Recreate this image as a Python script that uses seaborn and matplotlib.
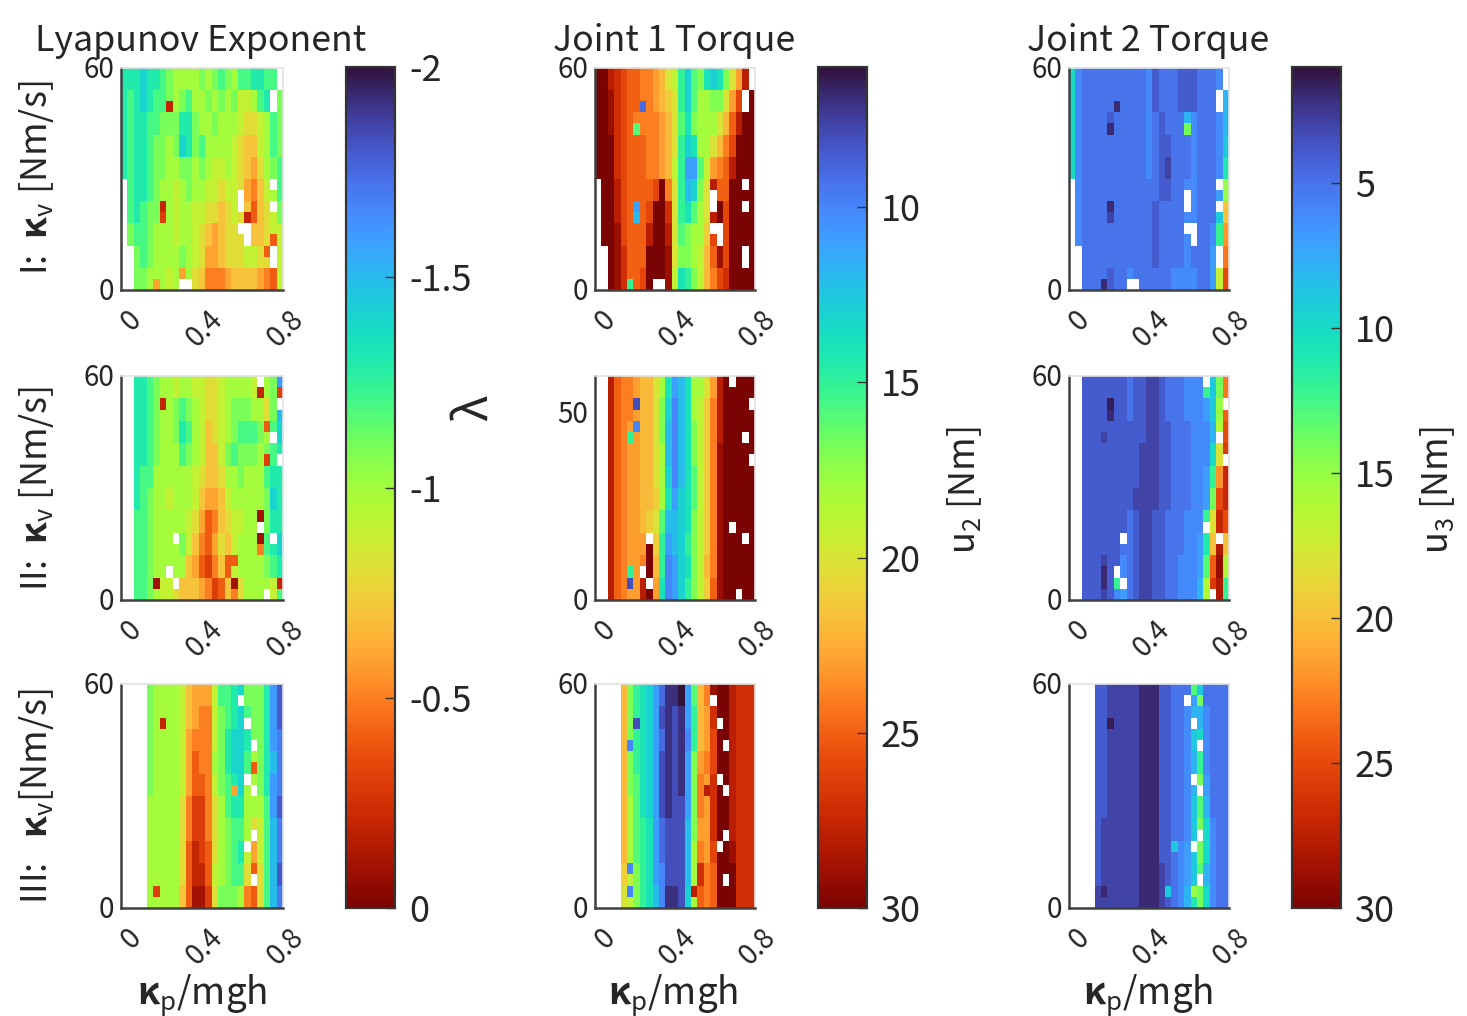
import numpy as np
import pandas as pd
import seaborn as sns
import matplotlib.pyplot as plt
from matplotlib.transforms import ScaledTranslation

n = np.nan

# rows run top to bottom, columns run along kp/mgh
lyap_1 = [
    [-1.3,-1.3,-1.3,-1.4,-1.3,-1.3,-1.2,-1.1,-1,-1,-1,-1,-1.1,-1,-1.1,-1.2,-1.1,-1,-1.2,-1.2,-1.3,-1.3,-1.2,-1.2,-1.2],
    [-1.3,-1.2,-1.3,-1.4,-1.3,-1.2,-1.2,-1.1,-1,-1.1,-1.2,-1,-1,-1.1,-1,-1.1,-1,-1.1,-.9,-.9,-1,-1.2,-1.3,-1.2,-1.1],
    [-1.3,-1.2,-1.3,-1.3,-1.2,-1.2,-1.1,-1.1,-1.1,-1.3,-1.3,-1.1,-1,-1,-1.1,-1,-1,-1,-.9,-.8,-.8,-.9,-1,-1.2,-1.1],
    [-1.3,-1.2,-1.3,-1.3,-1.2,-1.1,-1.1,-1,-1.1,-1.4,-1.3,-1.1,-1.2,-1,-1,-1,-1,-.9,-.8,-.7,-.7,-.9,-1,-1.2,-1.1],
    [-1.3,-1.2,-1.3,-1.3,-1.2,-1.1,-1.1,-1,-1,-1.1,-1.1,-1,-1.1,-1,-.9,-.9,-1,-.9,-.8,-.7,-.6,-.8,-1,-1.1,-1.2],
    [n,-1.2,-1.3,-1.3,-1.2,-1.1,-1,-1,-.9,-1,-1.1,-1,-1,-.9,-.9,-.8,-.9,-.9,-.8,-.6,-.5,-.7,-.9,-1,-1.2],
    [n,-1.2,-1.3,-1.2,-1.1,-1.1,-1,-1,-.9,-1,-1,-.9,-.9,-.8,-.8,-.7,-.8,-.9,-.8,-.7,-.4,-.7,-.8,-.9,-1.1],
    [n,-1.1,-1.2,-1.2,-1.1,-1,-1,-1,-.9,-1,-1,-.9,-.8,-.7,-.6,-.7,-.8,-.8,-.8,-.8,-.7,-.7,-.8,-.9,-.9],
    [n,n,-1.1,-1.2,-1.1,-1,-1,-1,-1,-1.1,-1,-.9,-.8,-.6,-.6,-.7,-.8,-.8,-.8,-.9,-.9,-.8,-.8,-.5,-.9],
    [n,n,-1.1,-1.1,-1,-1,-1,-.9,-1,-1,-1,-.8,-.7,-.5,-.5,-.5,-.6,-.7,-.7,-.7,-.7,-.6,-.5,-.4,-.9],
]
lyap_2 = [
    [n,n,-1.3,-1.3,-1.2,-1.1,-1,-1,-.9,-1,-1,-.9,-.9,-.8,-.8,-.9,-1,-1,-1,-1,-.9,-1,-1,-1.1,-1.6],
    [n,n,-1.3,-1.3,-1.2,-1.1,-1,-1,-1.1,-1.2,-1.1,-1,-.9,-.8,-.8,-.9,-1,-1.1,-1.1,-1.1,-1,-1,-.8,-1.1,-1.5],
    [n,n,-1.3,-1.3,-1.2,-1.1,-1,-1,-1.1,-1.3,-1.2,-1,-.9,-.7,-.8,-.9,-1,-1.1,-1.2,-1.2,-1.2,-1.1,-1,-1.2,-1.4],
    [n,n,-1.3,-1.3,-1.2,-1.1,-1,-1,-1,-1.2,-1.1,-1,-.9,-.7,-.7,-.9,-1.1,-1.2,-1.1,-1.1,-1.1,-1,-1.1,-1.2,-1.3],
    [n,n,-1.3,-1.2,-1.2,-1,-1,-1,-1,-1,-1,-.9,-.8,-.7,-.7,-.8,-1,-1,-1.1,-1,-1,-1,-1.2,-1.3,-1.3],
    [n,n,-1.3,-1.2,-1.1,-1,-1,-.9,-1,-1,-1,-.9,-.7,-.6,-.6,-.7,-.9,-1,-1,-1,-1,-1,-1.1,-1.4,-1.3],
    [n,n,-1.2,-1.2,-1.1,-1,-1,-1,-1,-1,-.9,-.8,-.6,-.4,-.5,-.7,-.8,-.9,-.9,-1,-1,-.6,-1.1,-1.3,-1.3],
    [n,n,-1.2,-1.2,-1.1,-1,-1,-1,-1,-1.1,-.9,-.7,-.5,-.4,-.6,-.8,-.7,-.9,-1,-1,-1,-.5,-1.2,-1.3,-1.4],
    [n,n,-1.2,-1.2,-1.1,-1,-1,-1,-1,-1,-.7,-.6,-.4,-.3,-.5,-.7,-.4,-.9,-1,-1,-1,-1,-1.1,-1.2,-1.3],
    [n,n,-1.2,-1.2,-1.1,-1,-.9,-.9,-.8,-.7,-.7,-.7,-.6,-.5,-.3,-.4,-.7,-.5,-.8,-1,-1,-1,-1,-.9,-1.2],
]
lyap_3 = [
    [n,n,n,n,-1.1,-1,-1,-1,-1,-.9,-.7,-.6,-.6,-.6,-.9,-1.2,-1.2,-1.3,-1.4,-1.1,-1.1,-1.1,-1.3,-1.6,-1.8],
    [n,n,n,n,-1.1,-1,-1,-1,-1,-.9,-.7,-.6,-.5,-.5,-.9,-1.1,-1.2,-1.3,-1.4,-1.2,-1.1,-1.1,-1.3,-1.6,-1.8],
    [n,n,n,n,-1.1,-1,-1,-1,-1,-.9,-.6,-.5,-.5,-.5,-.9,-1.1,-1.3,-1.4,-1.4,-1.3,-1.1,-1.1,-1.3,-1.6,-1.7],
    [n,n,n,n,-1.1,-1,-1,-1,-1,-.9,-.6,-.4,-.5,-.5,-1,-1.1,-1.3,-1.4,-1.4,-1.2,-1,-1.1,-1.3,-1.5,-1.7],
    [n,n,n,n,-1.1,-1,-1,-1,-1,-.9,-.6,-.4,-.4,-.5,-.9,-1.1,-1.2,-1.3,-1.4,-1,-1,-1.1,-1.3,-1.6,-1.7],
    [n,n,n,n,-1,-1,-1,-1,-1,-.8,-.5,-.3,-.3,-.5,-.8,-1,-1.2,-1.3,-1.3,-1,-1,-1,-1.2,-1.6,-1.8],
    [n,n,n,n,-1,-1,-1,-1,-1,-.8,-.5,-.3,-.3,-.5,-.8,-1,-1.1,-1.2,-1.2,-1,-.8,-.9,-1.2,-1.5,-1.7],
    [n,n,n,n,-1,-1,-1,-1,-1,-.8,-.4,-.2,-.3,-.4,-.8,-1,-1.1,-1.2,-1.3,-.9,-.6,-.9,-1.2,-1.5,-1.7],
    [n,n,n,n,-1,-1,-1,-1,-1,-.8,-.4,-.2,-.2,-.4,-.9,-1,-1.1,-1.2,-1.2,-.8,-.4,-.8,-1.2,-1.5,-1.8],
    [n,n,n,n,-1,-1,-1,-1,-1,-.7,-.4,-.1,-.1,-.3,-.8,-1.1,-1.1,-1.1,-1,-.5,-.4,-.8,-1.2,-1.5,-1.7],
]

torque2_1 = [
    [30,30,28,27,26,25,25,24,24,23,22,20,19,15,13,16,17,14,13,14,17,20,23,28,28],
    [30,30,29,27,26,25,25,24,24,23,22,21,20,15,13,16,18,18,17,17,20,23,26,30,30],
    [30,30,29,27,26,25,24,24,24,24,23,22,20,16,14,17,18,18,18,20,22,25,28,30,30],
    [30,30,30,27,26,25,25,25,24,24,23,22,20,15,13,14,18,18,20,22,24,26,30,30,30],
    [30,30,30,27,26,25,25,25,24,24,23,22,19,15,11,11,16,19,23,24,25,28,30,30,30],
    [n,30,30,28,26,25,25,25,25,26,30,24,20,15,12,13,17,20,28,25,25,30,30,30,30],
    [n,30,30,28,26,25,25,25,26,30,30,27,20,15,14,16,18,20,28,30,26,30,30,30,30],
    [n,30,30,29,26,25,25,25,28,30,30,28,20,16,17,18,18,21,26,30,26,30,30,30,30],
    [n,n,30,29,27,25,25,25,30,30,30,29,20,17,17,18,19,22,25,29,26,30,30,30,30],
    [n,n,30,29,27,25,25,26,30,30,30,29,19,14,15,17,19,22,24,26,27,30,30,30,30],
]
torque2_2 = [
    [n,n,28,25,24,24,23,22,22,20,18,14,11,12,14,18,18,20,23,28,30,30,30,30,30],
    [n,n,28,25,24,24,23,22,22,20,17,13,10,12,14,18,19,21,24,28,30,30,30,30,30],
    [n,n,28,25,24,23,23,22,22,20,17,12,10,12,14,17,19,21,24,28,30,30,30,30,30],
    [n,n,28,25,24,23,23,22,22,20,18,12,10,12,14,17,19,21,24,29,30,30,30,30,30],
    [n,n,28,25,24,23,23,22,22,20,18,13,10,12,14,16,19,21,24,29,30,30,30,30,30],
    [n,n,28,25,24,23,23,22,22,21,18,14,11,13,14,16,19,21,24,29,30,30,30,30,30],
    [n,n,28,25,24,23,23,22,21,20,16,12,12,13,14,17,19,21,24,29,30,30,30,30,30],
    [n,n,28,25,24,23,23,23,30,21,15,11,12,13,15,17,19,21,24,29,30,30,30,30,30],
    [n,n,28,25,24,23,23,24,30,22,15,10,11,13,14,17,19,22,24,29,30,30,30,30,30],
    [n,n,28,25,24,23,23,28,30,23,14,10,11,13,15,17,19,21,25,29,30,30,30,30,30],
]
torque2_3 = [
    [n,n,n,n,22,17,15,14,13,11,9,7,7,6,11,16,22,24,29,30,30,28,27,27,27],
    [n,n,n,n,22,17,15,14,13,11,8,7,8,7,11,15,22,23,27,30,30,28,27,27,27],
    [n,n,n,n,22,17,15,14,13,11,9,7,8,7,10,15,22,23,26,30,30,28,27,27,27],
    [n,n,n,n,22,17,15,14,13,11,8,7,8,7,11,17,23,24,26,30,30,28,27,27,27],
    [n,n,n,n,22,17,16,14,13,11,8,7,8,7,11,17,24,23,27,30,30,28,27,27,27],
    [n,n,n,n,22,18,16,14,13,11,8,7,8,8,11,17,24,23,27,30,30,28,27,27,27],
    [n,n,n,n,22,18,16,15,14,11,9,8,8,8,12,17,23,23,27,30,30,28,27,27,27],
    [n,n,n,n,22,18,16,15,14,11,9,8,8,8,12,18,24,23,26,30,30,29,27,27,27],
    [n,n,n,n,21,19,17,15,14,11,10,8,8,8,12,18,27,24,25,30,30,30,27,27,27],
    [n,n,n,n,20,19,17,15,14,12,10,7,7,8,13,18,25,24,25,30,30,30,27,27,27],
]

torque3_1 = [
    [10,6,5,5,5,5,5,5,5,5,5,5,6,4,5,5,5,4,4,4,5,5,5,6,8],
    [10,6,5,5,5,5,5,5,5,5,5,5,6,4,5,5,5,4,4,4,5,5,5,6,8],
    [10,6,5,5,5,5,4,5,5,5,5,5,6,5,4,5,5,5,5,6,5,5,5,6,8],
    [10,6,5,5,5,5,5,5,5,5,5,5,6,5,4,4,5,5,5,6,5,5,5,6,9],
    [10,6,5,5,5,5,5,5,5,5,5,5,6,5,4,3,5,5,5,6,5,5,5,6,11],
    [n,6,5,5,5,5,5,5,5,5,5,5,5,5,4,4,5,5,6,6,5,5,5,7,15],
    [n,6,5,5,5,5,4,5,5,5,5,5,5,4,5,5,5,5,6,6,5,5,5,9,20],
    [n,6,5,5,5,5,5,5,5,5,5,5,5,4,5,5,5,5,6,5,5,5,6,12,22],
    [n,n,5,5,5,5,5,5,5,5,5,5,5,4,5,5,5,5,6,5,5,5,7,15,23],
    [n,n,5,5,5,5,4,5,5,6,5,5,5,5,5,5,6,6,6,6,5,5,7,17,25],
]
torque3_2 = [
    [n,n,4,4,4,4,4,4,4,5,4,4,3,3,4,5,5,5,6,6,6,7,9,14,23],
    [n,n,4,4,4,4,4,4,4,5,4,4,3,3,4,5,5,5,6,6,6,7,9,15,24],
    [n,n,4,4,4,4,4,4,4,4,4,4,3,3,4,4,5,5,5,6,6,6,8,16,25],
    [n,n,4,4,4,4,4,4,4,4,4,3,3,3,4,4,5,5,5,6,6,6,10,18,26],
    [n,n,4,4,4,4,4,4,4,4,4,3,3,3,4,4,5,5,5,6,6,7,12,22,27],
    [n,n,4,4,4,4,4,4,4,4,3,3,3,3,4,4,5,5,5,6,6,7,14,25,27],
    [n,n,4,4,4,4,4,4,4,5,4,3,3,4,4,5,5,5,6,6,6,9,18,27,25],
    [n,n,4,4,4,4,4,4,5,5,4,3,3,4,4,5,5,5,6,6,7,11,20,28,20],
    [n,n,4,4,4,3,4,4,6,5,4,3,3,4,4,5,5,6,6,6,7,13,24,29,16],
    [n,n,4,4,4,3,4,6,7,5,4,3,3,4,4,5,5,6,6,6,8,16,26,28,12],
]
torque3_3 = [
    [n,n,n,n,4,4,3,3,3,3,3,2,2,2,4,4,5,5,5,7,9,5,5,5,5],
    [n,n,n,n,4,4,3,3,3,3,3,2,2,2,4,4,5,5,6,8,8,6,5,5,5],
    [n,n,n,n,4,4,3,3,3,3,3,2,2,2,4,4,5,5,6,9,10,6,5,5,5],
    [n,n,n,n,4,4,3,3,3,3,3,2,2,2,4,4,5,5,6,8,12,6,5,5,5],
    [n,n,n,n,4,4,3,3,3,3,3,2,2,2,4,4,5,5,6,8,14,7,5,5,5],
    [n,n,n,n,4,4,3,3,3,3,3,2,2,2,4,4,5,5,6,9,13,8,5,5,5],
    [n,n,n,n,4,3,3,3,3,3,3,2,2,2,4,4,5,5,6,9,14,10,6,5,5],
    [n,n,n,n,4,3,3,3,3,3,3,2,2,2,4,4,5,6,7,9,14,10,6,5,5],
    [n,n,n,n,4,3,3,3,3,3,3,2,2,2,3,4,5,6,7,9,13,8,6,5,5],
    [n,n,n,n,3,3,3,3,3,3,3,2,2,2,3,4,5,6,8,11,14,10,6,5,5],
]

# failed simulations (column, fine row), the same for all three quantities
holes_1 = [(24,0),(24,1),(23,2),(23,3),(23,10),(23,12),(18,11),(18,12),(18,14),(19,14),(19,15),(23,16),(23,17),(9,19),(10,19)]
holes_2 = [(21,0),(24,2),(23,5),(24,7),(21,13),(23,14),(22,19),(8,14),(7,17),(8,18)]
holes_3 = [(18,1),(19,3),(20,5),(19,8),(20,9),(20,13),(19,14),(20,17)]

# narrow streaks (column, fine row, value)
spots_lyap_1 = [(7,3,-.2),(6,12,-.2),(6,13,-.3),(5,19,-.6),(9,18,-.6),(23,15,-.4),(22,16,-.4),(19,13,-.2)]
spots_lyap_2 = [(6,2,-.2),(5,18,-.1),(21,1,-.2),(22,7,-.3),(22,4,-.4),(21,12,-.1),(21,14,-.1),(17,18,-.1),(17,16,-.4),(24,18,-.2),(24,1,-.3)]
spots_lyap_3 = [(6,3,-.2),(17,9,-.6),(5,18,-.3),(20,7,-.4)]
spots_t2_1 = [(7,3,9),(6,5,16),(6,12,11),(6,13,12),(5,19,15)]
spots_t2_2 = [(6,2,8),(6,4,10),(5,5,15),(5,18,8),(5,17,15)]
spots_t2_3 = [(6,3,8),(5,5,10),(5,16,10),(5,18,10),(15,18,28),(17,9,28)]
spots_t3_1 = [(7,3,2),(6,5,2),(6,12,2),(6,13,3),(5,19,2),(18,5,14),(18,4,8)]
spots_t3_2 = [(6,2,1.5),(6,3,2),(5,5,3),(5,18,2),(5,17,2),(21,1,12),(21,12,12),(7,18,12)]
spots_t3_3 = [(6,3,1.5),(5,18,2),(20,1,14),(19,0,13),(19,18,15),(16,14,9),(15,18,9)]

lyap_ticks = [-2, -1.5, -1, -0.5, 0]
lyap_ticklabels = ['-2', '-1.5', '-1', '-0.5', '0']
t2_ticks = [10, 15, 20, 25, 30]
t3_ticks = [5, 10, 15, 20, 25, 30]

sns.set_theme(style='white')
plt.rcParams['font.family'] = ['Noto Sans CJK JP', 'DejaVu Sans']
plt.rcParams['mathtext.fontset'] = 'custom'
plt.rcParams['mathtext.rm'] = 'Noto Sans CJK JP'
plt.rcParams['mathtext.it'] = 'Noto Sans CJK JP'
plt.rcParams['mathtext.bf'] = 'Noto Sans CJK JP:bold'
plt.rcParams['mathtext.default'] = 'rm'

W, H = 1467, 1016
INK = '#262626'
fig = plt.figure(figsize=(W / 100, H / 100), dpi=100)


def box(x0, y0, x1, y1):
    return fig.add_axes([x0 / W, 1 - y1 / H, (x1 - x0) / W, (y1 - y0) / H])


def panel(ax, rows, holes, spots, vmin, vmax, yticks, ylabels, cax=None):
    grid = np.repeat(np.array(rows, dtype=float), 2, axis=0)
    for c, r, v in spots:
        grid[r, c] = v
    for c, r in holes:
        grid[r, c] = np.nan
    sns.heatmap(pd.DataFrame(grid), ax=ax, cmap='turbo', vmin=vmin, vmax=vmax,
                cbar=cax is not None, cbar_ax=cax)
    ax.set_xticks([0, 12.5, 25])
    ax.set_xticklabels(['0', '0.4', '0.8'], rotation=45, ha='right', va='center',
                       rotation_mode='anchor', fontsize=20, color=INK)
    ax.set_yticks([20 - t / 60 * 20 for t in yticks])
    ax.set_yticklabels(ylabels, rotation=0, fontsize=20, color=INK)
    ax.tick_params(axis='y', direction='in', length=3, width=1, color='#555555', pad=5)
    ax.tick_params(axis='x', direction='in', length=3, width=1, color='#555555', pad=18)
    # labels sit to the right of the ticks and slightly lower, as in the original
    shift_x = ScaledTranslation(0.16, 0, fig.dpi_scale_trans)
    shift_y = ScaledTranslation(0, -0.02, fig.dpi_scale_trans)
    for t in ax.get_xticklabels():
        t.set_transform(t.get_transform() + shift_x)
    for t in ax.get_yticklabels():
        t.set_transform(t.get_transform() + shift_y)
    for side in ['left', 'bottom']:
        ax.spines[side].set_visible(True)
        ax.spines[side].set_color('#404040')
        ax.spines[side].set_linewidth(1.8)
    for side in ['top', 'right']:
        ax.spines[side].set_visible(True)
        ax.spines[side].set_color('#e2e2e2')
        ax.spines[side].set_linewidth(1.2)


def finish_cbar(cax, ticks, labels):
    cax.invert_yaxis()
    cax.set_axisbelow(False)
    cax.set_yticks(ticks)
    cax.set_yticklabels(labels, fontsize=26, color=INK)
    cax.tick_params(axis='y', direction='in', length=7, width=1, color='#333333', pad=10, right=True)
    for s in cax.spines.values():
        s.set_visible(True)
        s.set_color('#333333')
        s.set_linewidth(1.5)


row_y = [(68, 290), (376, 600), (684, 908)]
col_x = [(121, 283), (595, 755), (1069, 1229)]
cbar_x = [(346, 395), (818, 867), (1292, 1341)]
holes = [holes_1, holes_2, holes_3]
quantities = [
    ([lyap_1, lyap_2, lyap_3], [spots_lyap_1, spots_lyap_2, spots_lyap_3], -2, 0),
    ([torque2_1, torque2_2, torque2_3], [spots_t2_1, spots_t2_2, spots_t2_3], 6, 30),
    ([torque3_1, torque3_2, torque3_3], [spots_t3_1, spots_t3_2, spots_t3_3], 1, 30),
]
cbar_ticks = [(lyap_ticks, lyap_ticklabels), (t2_ticks, t2_ticks), (t3_ticks, t3_ticks)]

for j, (tables, spots, vmin, vmax) in enumerate(quantities):
    cax = box(cbar_x[j][0], 67, cbar_x[j][1], 908)
    for i in range(3):
        ax = box(col_x[j][0], row_y[i][0], col_x[j][1], row_y[i][1])
        yticks, ylabels = ([0, 60], ['0', '60'])
        if i == 1 and j == 1:
            yticks, ylabels = ([0, 50], ['0', '50'])
        panel(ax, tables[i], holes[i], spots[i], vmin, vmax, yticks, ylabels, cax if i == 0 else None)
    finish_cbar(cax, *cbar_ticks[j])


def label(x, y, s, size=26, **kw):
    fig.text(x / W, 1 - y / H, s, fontsize=size, color=INK, ha=kw.pop('ha', 'center'), va='center', **kw)


label(35, 41, 'Lyapunov Exponent', size=25.7, ha='left')
label(553, 41, 'Joint 1 Torque', size=25.7, ha='left')
label(1027, 41, 'Joint 2 Torque', size=25.7, ha='left')
label(37, 178, r'I:  $\mathbf{κ}_v$ [Nm/s]', rotation=90)
label(37, 489, r'II:  $\mathbf{κ}_v$ [Nm/s]', rotation=90)
label(37, 796, r'III:   $\mathbf{κ}_v$[Nm/s]', rotation=90)
label(202, 995, r'$\mathbf{κ}_p$/mgh', size=26.5)
label(673, 995, r'$\mathbf{κ}_p$/mgh', size=26.5)
label(1148, 995, r'$\mathbf{κ}_p$/mgh', size=26.5)
label(473, 408, 'λ', size=34, rotation=90)
label(965, 490, r'$u_2$ [Nm]', rotation=90)
label(1438, 490, r'$u_3$ [Nm]', rotation=90)

fig.savefig('out.png', dpi=100)
